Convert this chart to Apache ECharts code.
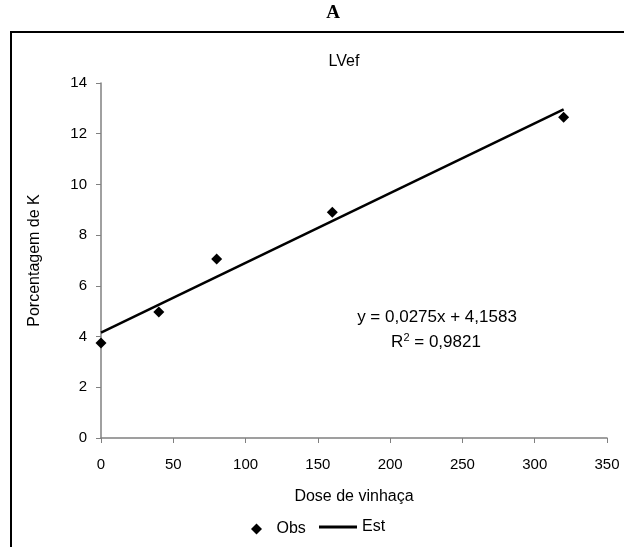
<!DOCTYPE html>
<html lang="pt">
  <head>
    <meta charset="UTF-8" />
    <title>LVef</title>
    <script src="https://cdn.jsdelivr.net/npm/echarts@6/dist/echarts.min.js"></script>
    <style>
      body { margin: 0; background: #fff; }
    </style>
  </head>
  <body>
    <div id="main" style="width: 624px; height: 547px"></div>
    <script type="text/javascript">
      // observed points
      const doses = [0, 40, 80, 160, 320];
      const obs = [3.75, 4.97, 7.06, 8.9, 12.65];
      // fitted line y = 0.0275x + 4.1583
      const estX = [0, 320];
      const estY = [4.1583, 12.9583];
      const xTicks = [0, 350, 50];
      const yTicks = [0, 14, 2];

      const font = "Liberation Sans, Arial, sans-serif";
      const axisGray = "#808080";

      let myChart = echarts.init(document.getElementById("main"));
      myChart.setOption({
        backgroundColor: "#fff",
        animation: false,
        textStyle: { fontFamily: font, color: "#000" },
        grid: { left: 101, right: 17, top: 83, bottom: 109 },
        xAxis: {
          type: "value",
          min: xTicks[0],
          max: xTicks[1],
          interval: xTicks[2],
          name: "Dose de vinhaça",
          nameLocation: "middle",
          nameGap: 51,
          nameTextStyle: { fontSize: 16, color: "#000" },
          splitLine: { show: false },
          axisLine: { lineStyle: { color: axisGray, width: 1.5 } },
          axisTick: { show: true, length: 5, lineStyle: { color: axisGray } },
          axisLabel: { fontSize: 15, color: "#000", margin: 19 },
        },
        yAxis: {
          type: "value",
          min: yTicks[0],
          max: yTicks[1],
          interval: yTicks[2],
          name: "Porcentagem de K",
          nameLocation: "middle",
          nameGap: 58,
          nameTextStyle: { fontSize: 16, color: "#000" },
          splitLine: { show: false },
          axisLine: { show: true, lineStyle: { color: axisGray, width: 1.5 } },
          axisTick: { show: true, length: 5, lineStyle: { color: axisGray } },
          axisLabel: { fontSize: 15, color: "#000", margin: 14 },
        },
        legend: [
          {
            left: 246,
            top: 516,
            itemWidth: 30,
            itemHeight: 11,
            textStyle: { fontSize: 16, color: "#000" },
            data: [{ name: "Obs", icon: "path://M5,0 L10,5 L5,10 L0,5 Z" }],
          },
          {
            left: 314,
            top: 514,
            itemWidth: 38,
            itemHeight: 3,
            textStyle: { fontSize: 16, color: "#000" },
            data: [{ name: "Est", icon: "path://M0,0 L38,0 L38,3 L0,3 Z" }],
          },
        ],
        series: [
          {
            name: "Obs",
            type: "scatter",
            symbol: "diamond",
            symbolSize: 11,
            itemStyle: { color: "#000", opacity: 1 },
            data: doses.map((d, i) => [d, obs[i]]),
            z: 3,
          },
          {
            name: "Est",
            type: "line",
            showSymbol: false,
            symbol: "none",
            lineStyle: { color: "#000", width: 2.5 },
            itemStyle: { color: "#000" },
            data: estX.map((d, i) => [d, estY[i]]),
          },
        ],
        graphic: [
          {
            type: "text",
            x: 333,
            y: 13,
            style: {
              text: "A",
              font: "bold 19px Liberation Serif, Times New Roman, serif",
              fill: "#000",
              align: "center",
              verticalAlign: "middle",
            },
          },
          {
            type: "polyline",
            shape: { points: [[11, 547], [11, 32], [624, 32]] },
            style: { stroke: "#000", lineWidth: 2, fill: null },
          },
          {
            type: "text",
            x: 344,
            y: 62,
            style: {
              text: "LVef",
              font: "16px " + font,
              fill: "#000",
              align: "center",
              verticalAlign: "middle",
            },
          },
          {
            type: "text",
            x: 437,
            y: 317,
            style: {
              text: "y = 0,0275x + 4,1583",
              font: "17px " + font,
              fill: "#000",
              align: "center",
              verticalAlign: "middle",
            },
          },
          {
            type: "text",
            x: 436,
            y: 342,
            style: {
              text: "R{sup|2} = 0,9821",
              font: "17px " + font,
              fill: "#000",
              align: "center",
              verticalAlign: "middle",
              rich: { sup: { fontSize: 11, verticalAlign: "top", padding: [0, 0, 9, 0] } },
            },
          },
        ],
      });
    </script>
  </body>
</html>
